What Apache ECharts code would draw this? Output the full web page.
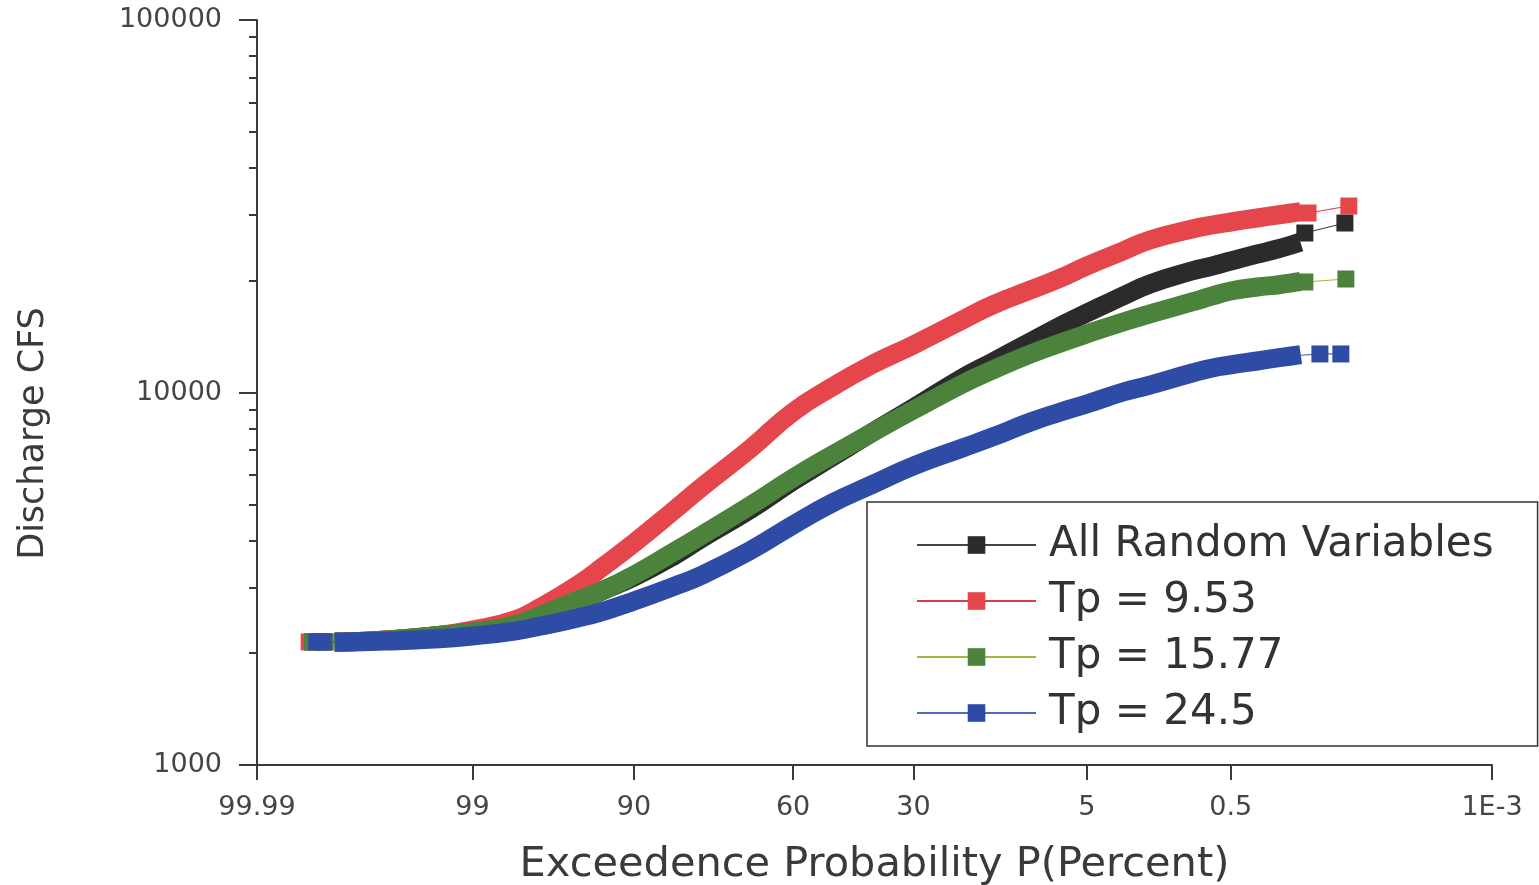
<!DOCTYPE html>
<html>
<head>
<meta charset="utf-8">
<script src="https://cdn.jsdelivr.net/npm/echarts@6/dist/echarts.min.js"></script>
<style>
  html, body { margin: 0; padding: 0; background: #fff; }
  #chart { width: 1539px; height: 885px; }
</style>
</head>
<body>
<div id="chart"></div>
<script>
// Exceedance probabilities (percent) along the dense body of every curve
const bandProb = [99.92, 99.8, 99.5, 99, 98, 97, 95, 93, 90, 85, 80, 70, 60, 50, 40,
                  30, 20, 15, 10, 7, 5, 3, 2, 1, 0.7, 0.5, 0.3, 0.2, 0.15];

// Discharge (cfs) at those probabilities
const flowAll    = [2139, 2165, 2220, 2275, 2362, 2497, 2739, 2950, 3196, 3618, 4068, 4867, 5786, 6712, 7786,
                    9087, 10940, 12070, 13670, 15080, 16350, 18160, 19560, 21200, 21860, 22540, 23540, 24280, 24890];
const flowTp953  = [2139, 2165, 2220, 2304, 2451, 2657, 3042, 3422, 3945, 4777, 5577, 7097, 8866, 10350, 11860,
                    13420, 15650, 17170, 18850, 20290, 21860, 23990, 25660, 27470, 28160, 28690, 29410, 29960, 30330];
const flowTp1577 = [2139, 2165, 2220, 2275, 2376, 2527, 2773, 2950, 3236, 3708, 4144, 4989, 5894, 6796, 7786,
                    8975, 10540, 11490, 12690, 13580, 14360, 15460, 16250, 17500, 18160, 18730, 19200, 19440, 19680];
const flowTp245  = [2139, 2152, 2179, 2220, 2289, 2362, 2481, 2590, 2756, 3005, 3236, 3777, 4410, 5051, 5646,
                    6348, 7097, 7596, 8333, 8866, 9314, 10030, 10470, 11280, 11640, 11860, 12150, 12380, 12530];

// Isolated extreme samples: [exceedance %, discharge cfs]
const lowTailAll    = [[99.961, 2140], [99.948, 2140]];
const lowTailTp953  = [[99.964, 2140], [99.950, 2140]];
const lowTailTp1577 = [[99.961, 2140], [99.948, 2140]];
const lowTailTp245  = [[99.957, 2140], [99.950, 2140]];
const highTailAll    = [[0.1125, 26800], [0.046, 28510]];
const highTailTp953  = [[0.105, 30330], [0.042, 31670]];
const highTailTp1577 = [[0.1125, 19800], [0.045, 20170]];
const highTailTp245  = [[0.081, 12690], [0.0505, 12690]];

const seriesNames = ['All Random Variables', 'Tp = 9.53', 'Tp = 15.77', 'Tp = 24.5'];

// Probability-axis ticks
const tickProb = [99.99, 99, 90, 60, 30, 5, 0.5, 0.001];
const tickText = ['99.99', '99', '90', '60', '30', '5', '0.5', '1E-3'];

// Discharge-axis ticks
const yMajor = [1000, 10000, 100000];
const yMinor = [2000, 3000, 4000, 5000, 6000, 7000, 8000, 9000,
                20000, 30000, 40000, 50000, 60000, 70000, 80000, 90000];

// Standard normal quantile (Acklam's rational approximation)
function normInv(p) {
  const a = [-3.969683028665376e+01, 2.209460984245205e+02, -2.759285104469687e+02,
             1.383577518672690e+02, -3.066479806614716e+01, 2.506628277459239e+00];
  const b = [-5.447609879822406e+01, 1.615858368580409e+02, -1.556989798598866e+02,
             6.680131188771972e+01, -1.328068155288572e+01];
  const c = [-7.784894002430293e-03, -3.223964580411365e-01, -2.400758277161838e+00,
             -2.549732539343734e+00, 4.374664141464968e+00, 2.938163982698783e+00];
  const d = [7.784695709041462e-03, 3.224671290700398e-01, 2.445134137142996e+00,
             3.754408661907416e+00];
  const pl = 0.02425, ph = 1 - pl;
  let q, r;
  if (p < pl) {
    q = Math.sqrt(-2 * Math.log(p));
    return (((((c[0]*q + c[1])*q + c[2])*q + c[3])*q + c[4])*q + c[5]) /
           ((((d[0]*q + d[1])*q + d[2])*q + d[3])*q + 1);
  }
  if (p <= ph) {
    q = p - 0.5; r = q * q;
    return (((((a[0]*r + a[1])*r + a[2])*r + a[3])*r + a[4])*r + a[5])*q /
           (((((b[0]*r + b[1])*r + b[2])*r + b[3])*r + b[4])*r + 1);
  }
  q = Math.sqrt(-2 * Math.log(1 - p));
  return -(((((c[0]*q + c[1])*q + c[2])*q + c[3])*q + c[4])*q + c[5]) /
          ((((d[0]*q + d[1])*q + d[2])*q + d[3])*q + 1);
}
// Normal-probability scale: exceedance percent -> position on the x axis
const probScale = pct => normInv(1 - pct / 100);

const tickPos = tickProb.map(probScale);
const X_MIN = tickPos[0];
const X_MAX = tickPos[tickPos.length - 1];

const bands = [flowAll, flowTp953, flowTp1577, flowTp245];
const lowTails = [lowTailAll, lowTailTp953, lowTailTp1577, lowTailTp245];
const highTails = [highTailAll, highTailTp953, highTailTp1577, highTailTp245];

const markColors = ['#2b2b2b', '#e5464c', '#4b823c', '#2e4ca6'];
const lineColors = ['#444444', '#e03a4a', '#a3b63e', '#5068c0'];

const FONT = 'DejaVu Sans';

const series = [];
bands.forEach((flow, k) => {
  const body = bandProb.map((p, i) => [probScale(p), flow[i]]);
  const low = lowTails[k].map(([p, v]) => [probScale(p), v]);
  const high = highTails[k].map(([p, v]) => [probScale(p), v]);
  // every sample, joined by a hairline; squares are shown for the isolated extremes
  const all = low.map(v => ({ value: v }))
    .concat(body.map(v => ({ value: v, symbol: 'none' })))
    .concat(high.map(v => ({ value: v })));
  series.push({
    type: 'line',
    name: seriesNames[k],
    data: all,
    symbol: 'rect',
    symbolSize: 17,
    showSymbol: true,
    showAllSymbol: true,
    itemStyle: { color: markColors[k] },
    lineStyle: { color: lineColors[k], width: 1.2 },
    animation: false,
    silent: true
  });
  // the dense body: overlapping markers merge into a thick band
  series.push({
    type: 'line',
    data: body,
    showSymbol: false,
    symbol: 'none',
    smooth: true,
    lineStyle: { color: markColors[k], width: 19, cap: 'square', join: 'round' },
    animation: false,
    silent: true
  });
});

const axisColor = '#3a3a3a';
const labelColor = '#454545';

const chart = echarts.init(document.getElementById('chart'), null, { renderer: 'canvas' });
chart.setOption({
  backgroundColor: '#ffffff',
  animation: false,
  grid: { left: 257, right: 47, top: 20, bottom: 120, containLabel: false, outerBoundsMode: 'none' },
  xAxis: {
    type: 'value',
    min: X_MIN,
    max: X_MAX,
    name: 'Exceedence Probability P(Percent)',
    nameLocation: 'middle',
    nameGap: 79,
    nameTextStyle: { fontFamily: FONT, fontSize: 41.5, color: '#3a3a3a' },
    axisLine: { show: true, onZero: false, lineStyle: { color: axisColor, width: 2 } },
    axisTick: { show: true, inside: false, length: 15, customValues: tickPos,
                lineStyle: { color: axisColor, width: 2 } },
    axisLabel: {
      customValues: tickPos,
      margin: 29,
      fontFamily: FONT, fontSize: 27, color: labelColor,
      formatter: v => {
        let best = 0;
        tickPos.forEach((t, i) => { if (Math.abs(t - v) < Math.abs(tickPos[best] - v)) best = i; });
        return tickText[best];
      }
    },
    splitLine: { show: false }
  },
  yAxis: [{
    type: 'log',
    logBase: 10,
    min: yMajor[0],
    max: yMajor[yMajor.length - 1],
    name: 'Discharge CFS',
    nameLocation: 'middle',
    nameRotate: 90,
    nameGap: 206,
    nameTextStyle: { fontFamily: FONT, fontSize: 35, color: '#3a3a3a', padding: [0, 82, 0, 0] },
    axisLine: { show: true, onZero: false, lineStyle: { color: axisColor, width: 2 } },
    axisTick: { show: true, inside: false, length: 18, customValues: yMajor,
                lineStyle: { color: axisColor, width: 2 } },
    axisLabel: { customValues: yMajor, margin: 35, fontFamily: FONT, fontSize: 27, color: labelColor,
                 formatter: v => String(Math.round(v)) },
    splitLine: { show: false },
    minorTick: { show: false }
  }, {
    // minor decade ticks
    type: 'log',
    logBase: 10,
    min: yMajor[0],
    max: yMajor[yMajor.length - 1],
    position: 'left',
    offset: 0,
    axisLine: { show: false, onZero: false },
    axisTick: { show: true, inside: false, length: 8, customValues: yMinor,
                lineStyle: { color: axisColor, width: 2 } },
    axisLabel: { show: false },
    splitLine: { show: false }
  }],
  legend: {
    data: seriesNames,
    orient: 'vertical',
    left: 867,
    top: 502,
    itemWidth: 119,
    itemHeight: 22,
    itemGap: 14,
    padding: [22, 44, 12, 49],
    borderColor: '#333',
    borderWidth: 1.5,
    backgroundColor: '#ffffff',
    selectedMode: false,
    textStyle: { fontFamily: FONT, fontSize: 42, color: '#333', lineHeight: 42, padding: [0, 0, 0, 8] }
  },
  series: series
});
</script>
</body>
</html>
